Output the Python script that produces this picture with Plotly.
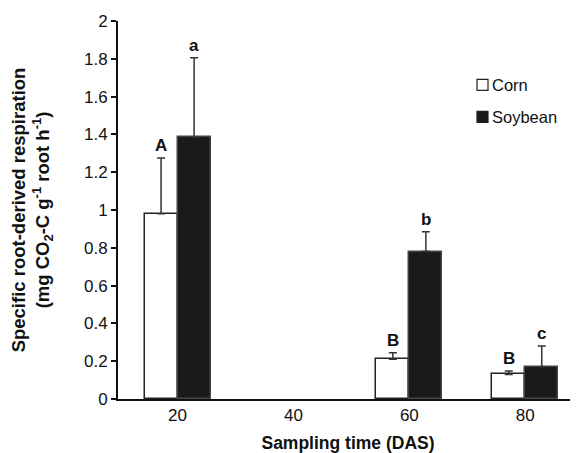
import plotly.graph_objects as go

# ---- data ----
sampling_das = [20, 40, 60, 80]
tick_labels = ["20", "40", "60", "80"]
series_names = ["Corn", "Soybean"]
corn_x = [20, 60, 80]
corn_vals = [0.98, 0.21, 0.13]
corn_err = [0.295, 0.035, 0.018]
corn_letters = ["A", "B", "B"]
soy_x = [20, 60, 80]
soy_vals = [1.385, 0.78, 0.17]
soy_err = [0.42, 0.105, 0.11]
soy_letters = ["a", "b", "c"]
y_ticks = [0, 0.2, 0.4, 0.6, 0.8, 1, 1.2, 1.4, 1.6, 1.8, 2]
y_tick_labels = ["0", "0.2", "0.4", "0.6", "0.8", "1", "1.2", "1.4", "1.6", "1.8", "2"]

FONT = "Liberation Sans, Arial, sans-serif"
BW = 5.7  # bar width in data units

# page offset of the figure (body margin) is 8px; figure sized to fit the window
L, T, PW, PH = 110, 13, 460, 378.5

fig = go.Figure()
fig.add_trace(go.Bar(
    x=corn_x, y=corn_vals, name=series_names[0], width=BW, offset=-BW,
    marker=dict(color="white", line=dict(color="#222", width=1.5)),
    error_y=dict(type="data", array=corn_err, arrayminus=[0] * len(corn_err),
                 symmetric=False, color="#333", thickness=1.5, width=4),
    showlegend=False))
fig.add_trace(go.Bar(
    x=soy_x, y=soy_vals, name=series_names[1], width=BW, offset=0,
    marker=dict(color="#1a1a1a", line=dict(color="#444", width=1.5)),
    error_y=dict(type="data", array=soy_err, arrayminus=[0] * len(soy_err),
                 symmetric=False, color="#333", thickness=1.5, width=4),
    showlegend=False))

annotations = []
for xs, vs, es, ls, off in [(corn_x, corn_vals, corn_err, corn_letters, -BW / 2),
                            (soy_x, soy_vals, soy_err, soy_letters, BW / 2)]:
    for x, v, e, l in zip(xs, vs, es, ls):
        annotations.append(dict(x=x + off, y=v + e, text="<b>%s</b>" % l, showarrow=False,
                                xref="x", yref="y", yanchor="bottom", yshift=1,
                                font=dict(family=FONT, size=17, color="#111")))

# manual legend (page coordinates -> paper)
shapes = []
legend_fill = ["white", "#1a1a1a"]
legend_y = [85, 117]
def px_x(p):
    return (p - 8 - L) / PW
def px_y(p):
    return 1 - (p - 8 - T) / PH
for name, fill, py in zip(series_names, legend_fill, legend_y):
    shapes.append(dict(type="rect", xref="paper", yref="paper",
                       x0=px_x(477), x1=px_x(488),
                       y0=px_y(py + 5.5), y1=px_y(py - 5.5),
                       fillcolor=fill, line=dict(color="#222", width=1.2)))
    annotations.append(dict(x=px_x(490), y=px_y(py), xref="paper", yref="paper",
                            text=name, showarrow=False, xanchor="left", yanchor="middle",
                            font=dict(family=FONT, size=16.5, color="#111")))

fig.update_layout(
    width=570, height=445,
    margin=dict(l=L, r=0, t=T, b=445 - T - PH, autoexpand=False),
    paper_bgcolor="white", plot_bgcolor="white",
    font=dict(family=FONT, size=16, color="#111"),
    bargap=0,
    annotations=annotations, shapes=shapes,
    xaxis=dict(range=[9.72, 89.1], tickvals=sampling_das, ticktext=tick_labels,
               showgrid=False, zeroline=False, showline=True, linecolor="#111", linewidth=2,
               ticks="", tickfont=dict(size=17), automargin=False,
               title=dict(text="<b>Sampling time (DAS)</b>", font=dict(size=17.5), standoff=13)),
    yaxis=dict(range=[0, 2], tickvals=y_ticks, ticktext=y_tick_labels,
               showgrid=False, zeroline=False, showline=True, linecolor="#111", linewidth=2,
               ticks="outside", ticklen=5, tickwidth=1.5, tickcolor="#111", tickfont=dict(size=17),
               automargin=False,
               title=dict(text="<b>Specific root-derived respiration<br>(mg CO<sub>2</sub>-C g<sup>-1</sup> root h<sup>-1</sup>)</b>",
                          font=dict(size=18.5), standoff=35)),
)

fig.write_html("out.html")
